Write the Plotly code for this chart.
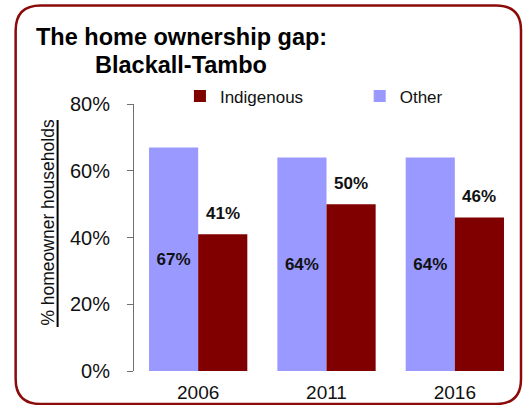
import plotly.graph_objects as go

# Home ownership rates by census year
years = ["2006", "2011", "2016"]
other_pct = [67, 64, 64]
indigenous_pct = [41, 50, 46]

y_ticks = [0, 20, 40, 60, 80]
y_tick_labels = ["0%", "20%", "40%", "60%", "80%"]

OTHER_COLOR = "#9999FF"
INDIG_COLOR = "#800000"
FRAME_COLOR = "#8B0A0A"
FONT = "Liberation Sans, Arial, sans-serif"

W, H = 528, 405
ML, MR, MT, MB = 134, 8.5, 104, 34
PW, PH = W - ML - MR, H - MT - MB


def px_x(x):
    return (x - ML) / PW


def px_y(y):
    return (H - MB - y) / PH


fig = go.Figure()

fig.add_trace(go.Bar(
    name="Other", x=years, y=other_pct,
    marker=dict(color=OTHER_COLOR, line=dict(width=0)),
    text=[f"{v}%" for v in other_pct],
    textposition="inside", insidetextanchor="middle",
    textangle=0, constraintext="none",
    textfont=dict(family=FONT, size=17, color="#111111", weight="bold"),
    legend="legend2",
))
fig.add_trace(go.Bar(
    name="Indigenous", x=years, y=indigenous_pct,
    marker=dict(color=INDIG_COLOR, line=dict(width=0)),
    legend="legend",
))

# Indigenous value labels floating above their bars (x given as category index)
bar_half = PW / 3 * (1 - 0.234) / 4
for i, v in enumerate(indigenous_pct):
    fig.add_annotation(
        x=i, y=v, xref="x", yref="y", text=f"<b>{v}%</b>",
        showarrow=False, xshift=bar_half, yshift=9, yanchor="bottom",
        font=dict(family=FONT, size=17, color="#111111"),
    )

# Two-line title
fig.add_annotation(
    x=px_x(181.5), y=px_y(37), xref="paper", yref="paper",
    text="<b>The home ownership gap:</b>", showarrow=False,
    xanchor="center", yanchor="middle",
    font=dict(family=FONT, size=23.5, color="#000000"),
)
fig.add_annotation(
    x=px_x(181.5), y=px_y(64.5), xref="paper", yref="paper",
    text="<b>Blackall-Tambo</b>", showarrow=False,
    xanchor="center", yanchor="middle",
    font=dict(family=FONT, size=23.5, color="#000000"),
)

# Vertical axis title with its underline
fig.add_annotation(
    x=px_x(47.5), y=px_y(223), xref="paper", yref="paper",
    text="% homeowner households", textangle=-90, showarrow=False,
    xanchor="center", yanchor="middle",
    font=dict(family=FONT, size=17.5, color="#111111"),
)
fig.add_shape(
    type="line", xref="paper", yref="paper",
    x0=px_x(57.5), x1=px_x(57.5), y0=px_y(120), y1=px_y(327),
    line=dict(color="#000000", width=2),
)

# Rounded frame around the whole chart
L, R, T, B, r = 15.5, 521.5, 5.5, 404, 25
pts = [
    ("M", (L + r, T)), ("L", (R - r, T)), ("Q", (R, T), (R, T + r)),
    ("L", (R, B - r)), ("Q", (R, B), (R - r, B)),
    ("L", (L + r, B)), ("Q", (L, B), (L, B - r)),
    ("L", (L, T + r)), ("Q", (L, T), (L + r, T)),
]
path = ""
for cmd, *coords in pts:
    path += cmd + " ".join(f"{px_x(x):.5f},{px_y(y):.5f}" for x, y in coords) + " "
fig.add_shape(
    type="path", path=path + "Z", xref="paper", yref="paper",
    line=dict(color=FRAME_COLOR, width=2.5), fillcolor="rgba(0,0,0,0)",
)

legend_style = dict(
    orientation="h", xanchor="left", yanchor="middle",
    font=dict(family=FONT, size=17, color="#111111"),
    bgcolor="rgba(0,0,0,0)", itemclick=False, itemdoubleclick=False,
)

fig.update_layout(
    width=W, height=H,
    margin=dict(l=ML, r=MR, t=MT, b=MB, pad=0, autoexpand=False),
    paper_bgcolor="white", plot_bgcolor="white",
    barmode="group", bargap=0.234, bargroupgap=0,
    font=dict(family=FONT, color="#111111"),
    showlegend=True,
    legend=dict(x=px_x(180), y=px_y(96.5), **legend_style),
    legend2=dict(x=px_x(360), y=px_y(96.5), **legend_style),
    xaxis=dict(
        type="category", range=[-0.5, 2.5], showline=False, ticks="",
        showgrid=False, automargin=False,
        tickfont=dict(family=FONT, size=19, color="#111111"),
        ticklabelstandoff=8,
    ),
    yaxis=dict(
        range=[0, 80], tickvals=y_ticks, ticktext=y_tick_labels,
        showline=True, linecolor="#707070", linewidth=1,
        ticks="outside", ticklen=6, tickcolor="#707070",
        showgrid=False, zeroline=False, automargin=False,
        tickfont=dict(family=FONT, size=20, color="#111111"),
        ticklabelstandoff=13,
    ),
)

fig.write_html("out.html")
